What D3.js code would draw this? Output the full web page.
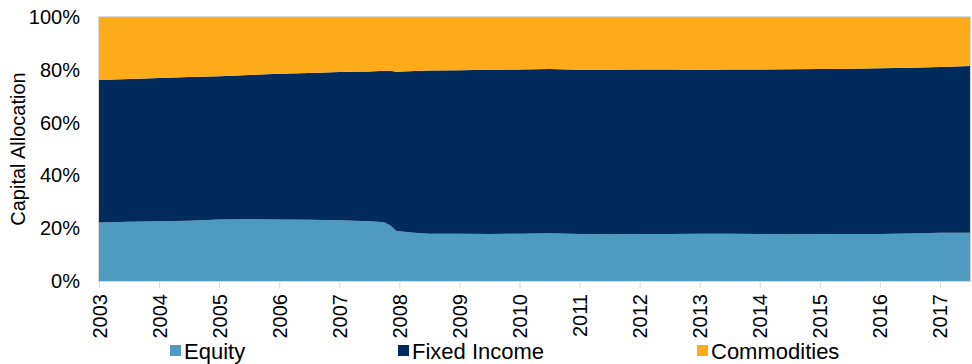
<!DOCTYPE html>
<html>
<head>
<meta charset="utf-8">
<script src="https://cdn.jsdelivr.net/npm/d3@7/dist/d3.min.js"></script>
<style>
  html, body { margin: 0; padding: 0; background: #ffffff; }
  svg { display: block; font-family: "Liberation Sans", Arial, sans-serif; }
</style>
</head>
<body>
<svg id="chart" width="972" height="364"></svg>
<script>
// Sample dates (decimal years)
const dates = [2003.0, 2003.5, 2004.0, 2004.5, 2005.0, 2005.5, 2006.0, 2006.5, 2007.0, 2007.5,
  2007.75, 2007.85, 2007.95, 2008.25, 2008.5, 2009.0, 2009.5, 2010.0, 2010.5, 2011.0,
  2011.5, 2012.0, 2012.5, 2013.0, 2013.5, 2014.0, 2014.5, 2015.0, 2015.5, 2016.0,
  2016.5, 2017.0, 2017.5];

// Allocation per asset class (%)
const equity = [22.2, 22.4, 22.6, 22.8, 23.3, 23.4, 23.3, 23.2, 23.0, 22.6,
  22.3, 21.0, 18.9, 18.3, 17.9, 17.9, 17.8, 17.9, 18.1, 17.8,
  17.7, 17.8, 17.8, 17.9, 17.9, 17.8, 17.7, 17.8, 17.8, 17.8,
  18.0, 18.3, 18.3];
const fixedIncome = [53.9, 54.1, 54.3, 54.5, 54.3, 54.6, 55.2, 55.6, 56.2, 56.8,
  57.3, 58.6, 60.4, 61.2, 61.8, 61.9, 62.2, 62.2, 62.2, 62.2,
  62.3, 62.3, 62.3, 62.1, 62.2, 62.3, 62.5, 62.5, 62.6, 62.8,
  62.8, 62.8, 63.1];
const commodities = [23.9, 23.5, 23.1, 22.7, 22.4, 22.0, 21.5, 21.2, 20.8, 20.6,
  20.4, 20.4, 20.7, 20.5, 20.3, 20.2, 20.0, 19.9, 19.7, 20.0,
  20.0, 19.9, 19.9, 20.0, 19.9, 19.9, 19.8, 19.7, 19.6, 19.4,
  19.2, 18.9, 18.6];

const seriesNames = ["Equity", "Fixed Income", "Commodities"];
const yearTicks = [2003, 2004, 2005, 2006, 2007, 2008, 2009, 2010, 2011, 2012, 2013, 2014, 2015, 2016, 2017];
const pctTicks = [0, 0.2, 0.4, 0.6, 0.8, 1.0];

const colors = { "Equity": "#4f9ac1", "Fixed Income": "#002b5c", "Commodities": "#fdab19" };

const svg = d3.select("#chart");
const margin = { left: 99, right: 2, top: 17, bottom: 83 };
const W = 972, H = 364;

const x = d3.scaleLinear().domain([2003, 2017.5]).range([margin.left, W - margin.right]);
const y = d3.scaleLinear().domain([0, 1]).range([H - margin.bottom, margin.top]);

const rows = dates.map((d, i) => ({
  date: d,
  "Equity": equity[i],
  "Fixed Income": fixedIncome[i],
  "Commodities": commodities[i]
}));

const stack = d3.stack().keys(seriesNames).offset(d3.stackOffsetExpand);
const layers = stack(rows);

const area = d3.area()
  .x(d => x(d.data.date))
  .y0(d => y(d[0]))
  .y1(d => y(d[1]));

svg.append("g")
  .selectAll("path")
  .data(layers)
  .join("path")
  .attr("d", area)
  .attr("fill", d => colors[d.key]);

// Plot frame
svg.append("rect")
  .attr("x", margin.left - 0.5)
  .attr("y", margin.top - 0.5)
  .attr("width", W - margin.right - margin.left + 1)
  .attr("height", H - margin.bottom - margin.top + 1)
  .attr("fill", "none")
  .attr("stroke", "#d9d9d9")
  .attr("stroke-width", 1);

// Y axis
const yAxis = svg.append("g")
  .attr("transform", `translate(${margin.left},0)`)
  .call(d3.axisLeft(y).tickValues(pctTicks).tickFormat(d3.format(".0%")).tickSize(0).tickPadding(19));
yAxis.select(".domain").remove();
yAxis.selectAll("text")
  .attr("font-size", 20)
  .attr("fill", "#000")
  .attr("font-family", "Liberation Sans, Arial, sans-serif");

// X axis
const xAxis = svg.append("g")
  .attr("transform", `translate(0,${H - margin.bottom})`)
  .call(d3.axisBottom(x).tickValues(yearTicks).tickFormat(d3.format("d")).tickSize(7).tickSizeOuter(0));
xAxis.select(".domain").attr("stroke", "#d9d9d9");
xAxis.selectAll(".tick line").attr("stroke", "#d9d9d9");
xAxis.selectAll("text")
  .attr("font-size", 20)
  .attr("fill", "#000")
  .attr("font-family", "Liberation Sans, Arial, sans-serif")
  .attr("transform", "rotate(-90)")
  .attr("text-anchor", "end")
  .attr("x", -13)
  .attr("y", 0)
  .attr("dy", "0.35em");

// Y axis title
svg.append("text")
  .attr("transform", `translate(25,${(margin.top + H - margin.bottom) / 2}) rotate(-90)`)
  .attr("text-anchor", "middle")
  .attr("font-size", 20)
  .attr("fill", "#000")
  .text("Capital Allocation");

// Legend
const legendX = [170, 398, 697];
const legend = svg.append("g");
seriesNames.forEach((name, i) => {
  legend.append("rect")
    .attr("x", legendX[i])
    .attr("y", 345)
    .attr("width", 11)
    .attr("height", 11)
    .attr("fill", colors[name]);
  legend.append("text")
    .attr("x", legendX[i] + 14)
    .attr("y", 358.5)
    .attr("font-size", 22)
    .attr("fill", "#000")
    .text(name);
});
</script>
</body>
</html>
